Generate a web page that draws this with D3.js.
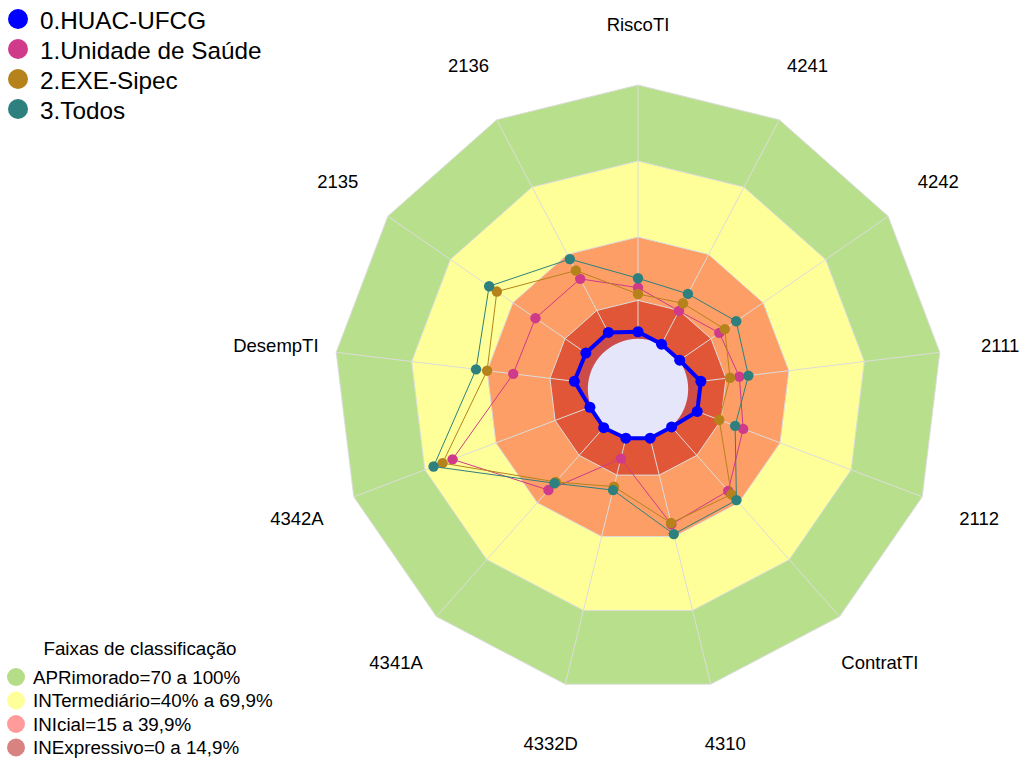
<!DOCTYPE html>
<html>
<head>
<meta charset="utf-8">
<script src="https://cdn.jsdelivr.net/npm/d3@7"></script>
<style>
  html, body { margin: 0; padding: 0; background: #fff; }
  svg { display: block; font-family: "Liberation Sans", Arial, sans-serif; }
</style>
</head>
<body>
<svg id="chart" width="1021" height="758"></svg>
<script>
// eixos (ordem do radar, sentido anti-horário a partir do topo)
const eixos = ['RiscoTI', '2136', '2135', 'DesempTI', '4342A', '4341A', '4332D',
               '4310', 'ContratTI', '2112', '2111', '4242', '4241'];

// valores em % por série
const huac     = [2.6, 5.2, 5.0, 5.3, 0.3, 0.4, 0, 0, 0, 5.0, 5.0, 0, 0];
const unidade  = [20.0, 29.1, 29.2, 29.6, 58.3, 33.3, 8.3, 35.0, 33.7, 24.4, 20.3, 19.0, 14.8];
const exe      = [17.5, 32.8, 47.7, 40.0, 62.5, 29.0, 19.7, 34.5, 35.6, 14.3, 16.6, 21.6, 18.2];
const todos    = [23.7, 37.9, 51.4, 44.4, 66.3, 29.7, 21.1, 39.0, 38.6, 21.0, 23.9, 27.1, 22.4];

const serieNomes = ['0.HUAC-UFCG', '1.Unidade de Saúde', '2.EXE-Sipec', '3.Todos'];
const serieCores = ['#0000ff', '#cf3a8a', '#b5821b', '#2e807e'];

// faixas de classificação
const faixaLimites = [100, 70, 40, 15];
const faixaCores   = ['#b8e08c', '#ffff99', '#fd9e66', '#e15636'];
const faixaNomes   = ['APRimorado=70 a 100%', 'INTermediário=40% a 69,9%',
                      'INIcial=15 a 39,9%', 'INExpressivo=0 a 14,9%'];
const faixaLegCores = ['#b5dd88', '#ffff99', '#ff9b9b', '#d98282'];

const svg = d3.select('#chart');
const cx = 638, cy = 389, R = 304, r0 = R / 6;
const n = eixos.length;

const rScale = d3.scaleLinear().domain([0, 100]).range([r0, R]);
const aScale = d3.scaleLinear().domain([0, n]).range([Math.PI / 2, Math.PI / 2 + 2 * Math.PI]);

const px = (i, r) => cx + r * Math.cos(aScale(i));
const py = (i, r) => cy - r * Math.sin(aScale(i));

const poly = vals => vals.map((v, i) => [px(i, rScale(v)), py(i, rScale(v))]);
const line = d3.line().curve(d3.curveLinearClosed);

// faixas
faixaLimites.forEach((lim, k) => {
  svg.append('path')
    .attr('d', line(poly(eixos.map(() => lim))))
    .attr('fill', faixaCores[k])
    .attr('stroke', '#dcdcdc').attr('stroke-width', 1);
});

// raios
eixos.forEach((e, i) => {
  svg.append('line')
    .attr('x1', px(i, r0)).attr('y1', py(i, r0))
    .attr('x2', px(i, R)).attr('y2', py(i, R))
    .attr('stroke', '#dcdcdc').attr('stroke-width', 1);
});

// área interna da série 0 (tom mais escuro)
svg.append('path')
  .attr('d', line(poly(huac)))
  .attr('fill', '#cc4c49');

// miolo
svg.append('circle')
  .attr('cx', cx).attr('cy', cy).attr('r', r0 - 0.5)
  .attr('fill', '#e6e6fa');

// séries
const series = [huac, unidade, exe, todos];
series.forEach((vals, s) => {
  const pts = poly(vals);
  const g = svg.append('g');
  g.append('path')
    .attr('d', line(pts))
    .attr('fill', 'none')
    .attr('stroke', serieCores[s])
    .attr('stroke-width', s === 0 ? 4 : 1)
    .attr('stroke-linejoin', 'round');
  g.selectAll('circle').data(pts).join('circle')
    .attr('cx', d => d[0]).attr('cy', d => d[1])
    .attr('r', s === 0 ? 5.5 : 5.2)
    .attr('fill', serieCores[s]);
});

// rótulos dos eixos
eixos.forEach((e, i) => {
  svg.append('text')
    .attr('x', px(i, R * 1.2)).attr('y', py(i, R * 1.2))
    .attr('text-anchor', 'middle')
    .attr('dominant-baseline', 'central')
    .attr('font-size', 18.5)
    .attr('fill', '#000')
    .text(e);
});

// legenda das séries
const leg = svg.append('g');
serieNomes.forEach((nm, s) => {
  const y = 19 + s * 30;
  leg.append('circle').attr('cx', 18).attr('cy', y).attr('r', 10).attr('fill', serieCores[s]);
  leg.append('text').attr('x', 40).attr('y', y + 1)
    .attr('dominant-baseline', 'central')
    .attr('font-size', 24.3).attr('fill', '#000').text(nm);
});

// legenda das faixas
const leg2 = svg.append('g');
leg2.append('text').attr('x', 140).attr('y', 648)
  .attr('text-anchor', 'middle').attr('dominant-baseline', 'central')
  .attr('font-size', 18.8).text('Faixas de classificação');
faixaNomes.forEach((nm, k) => {
  const y = 677 + k * 23.5;
  leg2.append('circle').attr('cx', 16).attr('cy', y).attr('r', 9).attr('fill', faixaLegCores[k]);
  leg2.append('text').attr('x', 33).attr('y', y)
    .attr('dominant-baseline', 'central')
    .attr('font-size', 18.8).text(nm);
});
</script>
</body>
</html>
